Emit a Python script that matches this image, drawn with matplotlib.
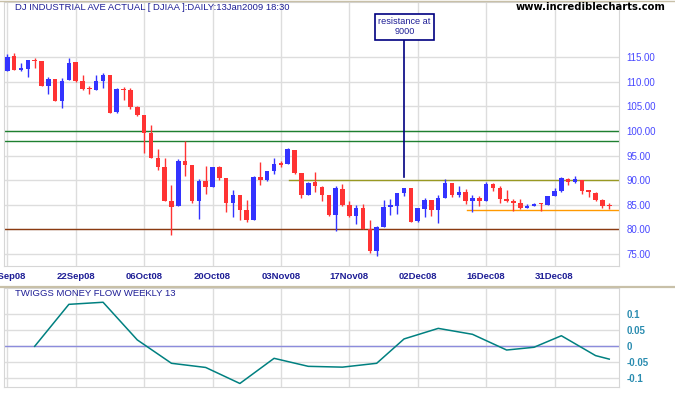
import numpy as np
import pandas as pd
import matplotlib
matplotlib.use("Agg")
import matplotlib.pyplot as plt
from matplotlib.lines import Line2D

# daily DJIA prices (in hundreds), 08Sep08 .. 13Jan09
opens = [112.28, 115.26, 112.48, 112.69, 114.38, 114.25, 109.23, 110.58, 106.18, 110.45,
         114.04, 110.18, 108.62, 108.42, 110.25, 111.40, 103.94, 108.55, 108.35, 104.96,
         103.27, 99.61, 94.46, 92.69, 85.85, 84.83, 93.91, 93.10, 85.85, 89.85,
         88.69, 92.69, 90.45, 85.44, 87.00, 83.94, 81.91, 90.65, 90.04, 91.87,
         93.30, 93.37, 96.15, 91.54, 87.06, 89.64, 88.62, 86.99, 82.99, 88.15,
         84.96, 82.72, 84.28, 80.02, 75.68, 80.49, 84.63, 84.76, 87.41, 88.43,
         81.71, 84.16, 85.98, 83.95, 86.46, 89.44, 87.07, 87.61, 85.85, 86.39,
         85.85, 89.24, 88.43, 86.19, 85.78, 85.37, 84.43, 84.83, 85.31, 85.04,
         86.80, 87.81, 90.26, 89.65, 90.05, 87.88, 87.41, 86.05, 84.83]
highs = [115.67, 115.87, 113.84, 114.45, 114.79, 114.25, 110.99, 110.58, 110.72, 114.92,
         114.04, 111.40, 109.23, 111.40, 111.81, 111.40, 108.75, 108.96, 108.70, 105.10,
         103.27, 101.24, 96.35, 94.52, 89.03, 94.25, 97.98, 93.10, 90.25, 92.96,
         92.69, 92.96, 90.45, 88.01, 87.00, 85.98, 90.93, 93.71, 91.87, 94.52,
         93.98, 96.62, 96.15, 91.54, 89.64, 91.67, 88.89, 86.99, 88.82, 89.23,
         85.77, 84.89, 85.16, 81.92, 80.70, 85.98, 86.19, 87.41, 88.43, 88.43,
         84.29, 86.46, 85.98, 87.00, 90.26, 89.44, 88.83, 88.15, 87.00, 86.80,
         89.65, 89.44, 88.83, 88.02, 86.19, 86.19, 85.17, 85.44, 85.37, 86.80,
         88.35, 90.73, 90.46, 90.87, 90.05, 87.88, 87.61, 86.19, 85.37]
lows = [112.28, 112.48, 112.21, 110.99, 112.82, 109.23, 107.60, 106.18, 104.75, 110.45,
        110.00, 108.42, 107.60, 108.42, 108.75, 103.74, 103.74, 106.32, 104.49, 103.13,
        95.47, 94.59, 92.15, 85.85, 78.93, 84.83, 90.93, 85.44, 82.18, 87.27,
        88.69, 90.05, 83.61, 82.59, 81.91, 81.57, 81.91, 89.10, 89.84, 91.33,
        92.76, 93.37, 91.33, 86.45, 87.06, 87.60, 85.84, 82.79, 79.74, 84.76,
        82.52, 81.10, 80.01, 75.27, 74.66, 80.49, 82.93, 83.20, 86.80, 81.51,
        81.51, 82.53, 82.73, 81.37, 86.46, 86.66, 86.66, 85.24, 83.61, 84.83,
        85.85, 87.81, 85.31, 85.58, 83.81, 84.15, 84.43, 84.83, 83.75, 85.04,
        86.80, 87.61, 89.04, 89.51, 87.27, 86.60, 85.85, 84.42, 84.22]
closes = [115.06, 112.48, 112.82, 114.45, 114.25, 109.23, 110.58, 106.18, 110.18, 113.84,
          110.18, 108.62, 108.48, 110.18, 111.40, 103.74, 108.55, 108.40, 104.95, 103.27,
          99.68, 94.59, 92.76, 85.85, 84.63, 93.91, 93.10, 85.85, 89.85, 88.69,
          92.69, 90.52, 85.44, 87.00, 83.95, 81.91, 90.72, 90.11, 91.87, 93.23,
          93.16, 96.35, 91.47, 87.06, 89.50, 88.89, 87.06, 82.99, 88.35, 84.96,
          82.72, 84.28, 80.01, 75.68, 80.43, 84.56, 85.04, 87.41, 88.43, 81.51,
          84.29, 85.98, 84.02, 86.39, 89.44, 87.00, 87.61, 85.85, 86.39, 85.85,
          89.24, 88.43, 86.19, 85.71, 85.44, 84.43, 84.76, 85.24, 85.17, 86.80,
          87.81, 90.46, 89.65, 90.26, 87.88, 87.68, 86.05, 84.83, 84.70]

# twiggs money flow (weekly 13)
tmf_dates = ['2008-09-12', '2008-09-19', '2008-09-26', '2008-10-03', '2008-10-10',
             '2008-10-17', '2008-10-24', '2008-10-31', '2008-11-07', '2008-11-14',
             '2008-11-21', '2008-11-28', '2008-12-05', '2008-12-12', '2008-12-19',
             '2008-12-26', '2009-01-02', '2009-01-09', '2009-01-13']
tmf_values = [0.0, 0.131, 0.1375, 0.02, -0.053, -0.066, -0.116, -0.0375, -0.0625, -0.065,
              -0.053, 0.023, 0.056, 0.0375, -0.0116, -0.003, 0.033, -0.029, -0.040]

tick_dates = ['2008-09-08', '2008-09-22', '2008-10-06', '2008-10-20', '2008-11-03',
              '2008-11-17', '2008-12-02', '2008-12-16', '2008-12-31']
price_ticks = [75, 80, 85, 90, 95, 100, 105, 110, 115]
tmf_ticks = [-0.1, -0.05, 0, 0.05, 0.1]
tmf_labels = ['-0.1', '-0.05', '0', '0.05', '0.1']

# support / resistance lines: (level, start date or None, colour)
levels = [(100.0, None, '#1e8030'), (98.0, None, '#1e8030'), (80.0, None, '#8b3a10'),
          (90.0, '2008-11-04', '#999922'), (84.0, '2008-12-11', '#ff9900')]
resist_date = '2008-11-28'
resist_level = 90.72

holidays = pd.to_datetime(['2008-11-27', '2008-12-25', '2009-01-01'])
dates = pd.bdate_range('2008-09-08', '2009-01-13')
dates = dates[~dates.isin(holidays)]


def day_index(d):
    return dates.get_loc(pd.Timestamp(d))


W, H = 675, 395
fig = plt.figure(figsize=(6.75, 3.95), dpi=100)
ax = fig.add_axes([4.3 / W, 1 - 266 / H, 615 / W, 264.5 / H])
ax2 = fig.add_axes([4.3 / W, 1 - 387 / H, 615 / W, 99 / H])

navy = '#1e1e96'
grid_c = '#dddddd'

x = np.arange(len(closes))
o = np.array(opens)
c = np.array(closes)
up = c >= o
cols = np.where(up, '#3333ff', '#ff3333')
bottoms = np.minimum(o, c)
heights = np.maximum(np.abs(c - o), 0.25)

ax.vlines(x, lows, highs, colors=cols, lw=1.0, zorder=3)
ax.bar(x, heights, bottom=bottoms, width=0.66, color=cols, lw=0, zorder=4)

for lvl, start, col in levels:
    x0 = -0.44 if start is None else day_index(start) + 0.2
    ax.plot([x0, 89.47], [lvl, lvl], color=col, lw=1.0, zorder=2)

xr = day_index(resist_date)
ax.plot([xr, xr], [resist_level, 118.4], color='#000080', lw=1.2, zorder=5)
ax.text(xr + 0.07, 121.2, 'resistance at\n9000', ha='center', va='center',
        fontsize=6.6, color=navy, family='Liberation Sans', linespacing=1.15, zorder=6,
        bbox=dict(boxstyle='square,pad=0.35', facecolor='white', edgecolor='#000080', lw=1.2))

tick_pos = [day_index(d) for d in tick_dates]
tick_lab = [pd.Timestamp(d).strftime('%d%b%y') for d in tick_dates]

ax.set_xlim(-0.44, 89.47)
ax.set_ylim(72.56, 126.35)
ax.set_xticks(tick_pos)
ax.set_xticklabels(tick_lab)
ax.set_yticks(price_ticks)
ax.set_yticklabels(['%.2f' % t for t in price_ticks])
ax.yaxis.tick_right()
ax.tick_params(axis='y', length=0, pad=5, labelsize=7, labelcolor='#4848ff')
ax.tick_params(axis='x', length=0, pad=4, labelsize=6.8, labelcolor=navy)
for lab in ax.get_xticklabels() + ax.get_yticklabels():
    lab.set_family('Liberation Sans')
for lab in ax.get_xticklabels():
    lab.set_fontweight('bold')
ax.grid(True, color=grid_c, lw=1.0, zorder=0)
for sp in ax.spines.values():
    sp.set_color('#d6d6d6')

# money flow panel
tx = [day_index(d) for d in tmf_dates]
ax2.axhline(0, color='#8c8cdc', lw=1.0, zorder=2)
ax2.plot(tx, tmf_values, color='#008080', lw=1.1, zorder=3)
ax2.set_xlim(-0.44, 89.47)
ax2.set_ylim(-0.127, 0.182)
ax2.set_xticks(tick_pos)
ax2.set_xticklabels([])
ax2.set_yticks(tmf_ticks)
ax2.set_yticklabels(tmf_labels)
ax2.yaxis.tick_right()
ax2.tick_params(axis='y', length=0, pad=5, labelsize=7, labelcolor='#2a8cb0')
ax2.tick_params(axis='x', length=0)
for lab in ax2.get_yticklabels():
    lab.set_family('Liberation Sans')
    lab.set_fontweight('bold')
ax2.grid(True, color=grid_c, lw=1.0, zorder=0)
for sp in ax2.spines.values():
    sp.set_color('#d6d6d6')

fig.text(15 / W, 1 - 7.5 / H, 'DJ INDUSTRIAL AVE ACTUAL [ DJIAA ]:DAILY:13Jan2009 18:30',
         fontsize=6.8, color=navy, family='Liberation Sans', va='center')
fig.text(15 / W, 1 - 293.5 / H, 'TWIGGS MONEY FLOW WEEKLY 13',
         fontsize=6.8, color=navy, family='Liberation Sans', va='center')
fig.text(666 / W, 1 - 7.5 / H, 'www.incrediblecharts.com', fontsize=7.2,
         fontweight='bold', color='black', family='DejaVu Sans', ha='right', va='center')

fig.add_artist(Line2D([0, 1], [1 - 287 / H, 1 - 287 / H], color='#c8c0a8', lw=1.6))
fig.add_artist(Line2D([0, 1], [1 - 0.5 / H, 1 - 0.5 / H], color='#c8c0a8', lw=1.0))

fig.savefig('out.png', dpi=100)
